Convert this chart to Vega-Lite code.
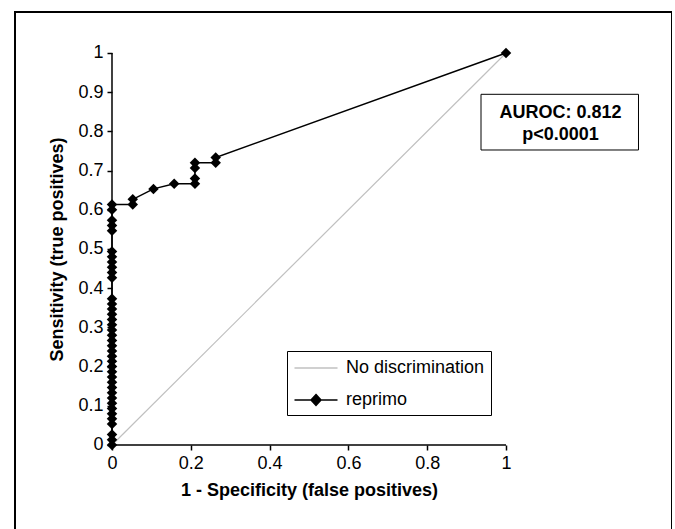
{
  "$schema": "https://vega.github.io/schema/vega-lite/v6.json",
  "autosize": {"type": "none"},
  "width": 657,
  "height": 518,
  "padding": {"left": 15, "top": 12, "right": 0, "bottom": 0},
  "background": "white",
  "config": {
    "view": {"stroke": "black", "strokeWidth": 2},
    "font": "Liberation Sans"
  },
  "datasets": {
    "diag": [{"fpr": 0, "tpr": 0}, {"fpr": 1, "tpr": 1}],
    "series": [{"series": "No discrimination"}, {"series": "reprimo"}],
    "roc": [
      {"series": "reprimo", "fpr": 0, "tpr": 0},
      {"series": "reprimo", "fpr": 0, "tpr": 0.01333},
      {"series": "reprimo", "fpr": 0, "tpr": 0.02667},
      {"series": "reprimo", "fpr": 0, "tpr": 0.05333},
      {"series": "reprimo", "fpr": 0, "tpr": 0.06667},
      {"series": "reprimo", "fpr": 0, "tpr": 0.08},
      {"series": "reprimo", "fpr": 0, "tpr": 0.09333},
      {"series": "reprimo", "fpr": 0, "tpr": 0.10667},
      {"series": "reprimo", "fpr": 0, "tpr": 0.12},
      {"series": "reprimo", "fpr": 0, "tpr": 0.13333},
      {"series": "reprimo", "fpr": 0, "tpr": 0.14667},
      {"series": "reprimo", "fpr": 0, "tpr": 0.16},
      {"series": "reprimo", "fpr": 0, "tpr": 0.17333},
      {"series": "reprimo", "fpr": 0, "tpr": 0.18667},
      {"series": "reprimo", "fpr": 0, "tpr": 0.2},
      {"series": "reprimo", "fpr": 0, "tpr": 0.21333},
      {"series": "reprimo", "fpr": 0, "tpr": 0.22667},
      {"series": "reprimo", "fpr": 0, "tpr": 0.24},
      {"series": "reprimo", "fpr": 0, "tpr": 0.25333},
      {"series": "reprimo", "fpr": 0, "tpr": 0.26667},
      {"series": "reprimo", "fpr": 0, "tpr": 0.28},
      {"series": "reprimo", "fpr": 0, "tpr": 0.29333},
      {"series": "reprimo", "fpr": 0, "tpr": 0.30667},
      {"series": "reprimo", "fpr": 0, "tpr": 0.32},
      {"series": "reprimo", "fpr": 0, "tpr": 0.33333},
      {"series": "reprimo", "fpr": 0, "tpr": 0.34667},
      {"series": "reprimo", "fpr": 0, "tpr": 0.36},
      {"series": "reprimo", "fpr": 0, "tpr": 0.37333},
      {"series": "reprimo", "fpr": 0, "tpr": 0.42667},
      {"series": "reprimo", "fpr": 0, "tpr": 0.44},
      {"series": "reprimo", "fpr": 0, "tpr": 0.45333},
      {"series": "reprimo", "fpr": 0, "tpr": 0.46667},
      {"series": "reprimo", "fpr": 0, "tpr": 0.48},
      {"series": "reprimo", "fpr": 0, "tpr": 0.49333},
      {"series": "reprimo", "fpr": 0, "tpr": 0.54667},
      {"series": "reprimo", "fpr": 0, "tpr": 0.56},
      {"series": "reprimo", "fpr": 0, "tpr": 0.57333},
      {"series": "reprimo", "fpr": 0, "tpr": 0.6},
      {"series": "reprimo", "fpr": 0, "tpr": 0.61333},
      {"series": "reprimo", "fpr": 0.05263, "tpr": 0.61333},
      {"series": "reprimo", "fpr": 0.05263, "tpr": 0.62667},
      {"series": "reprimo", "fpr": 0.10526, "tpr": 0.65333},
      {"series": "reprimo", "fpr": 0.15789, "tpr": 0.66667},
      {"series": "reprimo", "fpr": 0.21053, "tpr": 0.66667},
      {"series": "reprimo", "fpr": 0.21053, "tpr": 0.68},
      {"series": "reprimo", "fpr": 0.21053, "tpr": 0.70667},
      {"series": "reprimo", "fpr": 0.21053, "tpr": 0.72},
      {"series": "reprimo", "fpr": 0.26316, "tpr": 0.72},
      {"series": "reprimo", "fpr": 0.26316, "tpr": 0.73333},
      {"series": "reprimo", "fpr": 1, "tpr": 1}
    ],
    "note": [{"label": ["AUROC: 0.812", "p<0.0001"]}]
  },
  "layer": [
    {
      "data": {"name": "diag"},
      "mark": {"type": "line", "color": "#c0c0c0", "strokeWidth": 1.2},
      "encoding": {
        "x": {
          "field": "fpr", "type": "quantitative",
          "scale": {"domain": [-0.24619, 1.42132], "nice": false, "zero": false},
          "axis": {
            "values": [0, 0.2, 0.4, 0.6, 0.8, 1], "format": "~g",
            "offset": -85, "domain": false, "grid": false,
            "tickSize": 5, "tickColor": "black", "tickWidth": 1.5,
            "labelFont": "Liberation Sans", "labelFontSize": 18, "labelColor": "black",
            "labelPadding": 4, "labelFlush": false, "labelOverlap": false,
            "title": "1 - Specificity (false positives)",
            "titleFont": "Liberation Sans", "titleFontSize": 18, "titleFontWeight": "bold",
            "titleColor": "black", "titleX": 294, "titleY": 45, "titleBaseline": "middle"
          }
        },
        "y": {
          "field": "tpr", "type": "quantitative",
          "scale": {"domain": [-0.21684, 1.10459], "nice": false, "zero": false},
          "axis": {
            "values": [0, 0.1, 0.2, 0.3, 0.4, 0.5, 0.6, 0.7, 0.8, 0.9, 1], "format": "~g",
            "offset": -97, "domain": false, "grid": false,
            "tickSize": 5, "tickColor": "black", "tickWidth": 1.5,
            "labelFont": "Liberation Sans", "labelFontSize": 18, "labelColor": "black",
            "labelPadding": 4, "labelFlush": false, "labelOverlap": false,
            "title": "Sensitivity (true positives)",
            "titleFont": "Liberation Sans", "titleFontSize": 18, "titleFontWeight": "bold",
            "titleColor": "black", "titleX": -55, "titleY": 237, "titleBaseline": "middle"
          }
        }
      }
    },
    {
      "data": {"values": [{}]},
      "mark": {"type": "rule", "color": "black", "strokeWidth": 1.5},
      "encoding": {
        "x": {"datum": 0},
        "x2": {"datum": 1},
        "y": {"datum": 0}
      }
    },
    {
      "data": {"values": [{}]},
      "mark": {"type": "rule", "color": "black", "strokeWidth": 1.5},
      "encoding": {
        "x": {"datum": 0},
        "y": {"datum": 0},
        "y2": {"datum": 1}
      }
    },
    {
      "data": {"values": [{}]},
      "mark": {"type": "rect", "fill": "white", "stroke": "black", "strokeWidth": 1},
      "encoding": {
        "x": {"datum": 0.93655},
        "x2": {"datum": 1.33629},
        "y": {"datum": 0.89464},
        "y2": {"datum": 0.75255}
      }
    },
    {
      "data": {"name": "note"},
      "mark": {"type": "text", "font": "Liberation Sans", "fontSize": 18, "fontWeight": "bold", "color": "black", "align": "center", "baseline": "middle", "lineHeight": 22},
      "encoding": {
        "x": {"datum": 1.1383},
        "y": {"datum": 0.8469},
        "text": {"field": "label"}
      }
    },
    {
      "data": {"name": "roc"},
      "mark": {"type": "line", "color": "black", "strokeWidth": 1.5},
      "encoding": {
        "x": {"field": "fpr", "type": "quantitative"},
        "y": {"field": "tpr", "type": "quantitative"},
        "order": [{"field": "fpr", "type": "quantitative"}, {"field": "tpr", "type": "quantitative"}]
      }
    },
    {
      "data": {"name": "roc"},
      "mark": {"type": "point", "shape": "diamond", "filled": true, "size": 110, "opacity": 1, "color": "black"},
      "encoding": {
        "x": {"field": "fpr", "type": "quantitative"},
        "y": {"field": "tpr", "type": "quantitative"}
      }
    },
    {
      "data": {"name": "series"},
      "mark": {"type": "point", "opacity": 1, "clip": true, "strokeWidth": 1.5},
      "encoding": {
        "x": {"datum": -5},
        "y": {"datum": -5},
        "fill": {
          "field": "series", "type": "nominal",
          "scale": {"domain": ["No discrimination", "reprimo"], "range": ["white", "black"]},
          "legend": {
            "title": null, "orient": "none", "legendX": 272, "legendY": 339,
            "padding": 6, "strokeColor": "black", "fillColor": "white",
            "symbolSize": 400, "symbolOffset": 12, "labelOffset": 19, "rowPadding": 12,
            "labelFont": "Liberation Sans", "labelFontSize": 18, "labelColor": "black",
            "symbolStrokeWidth": 1.5
          }
        },
        "stroke": {
          "field": "series", "type": "nominal",
          "scale": {"domain": ["No discrimination", "reprimo"], "range": ["#c0c0c0", "black"]},
          "legend": {
            "title": null, "orient": "none", "legendX": 272, "legendY": 339,
            "padding": 6, "strokeColor": "black", "fillColor": "white",
            "symbolSize": 400, "symbolOffset": 12, "labelOffset": 19, "rowPadding": 12,
            "labelFont": "Liberation Sans", "labelFontSize": 18, "labelColor": "black",
            "symbolStrokeWidth": 1.5
          }
        },
        "shape": {
          "field": "series", "type": "nominal",
          "scale": {"domain": ["No discrimination", "reprimo"], "range": ["M-2.15,0L2.15,0", "M-2.15,0L2.15,0M0,-0.55L0.5,0L0,0.55L-0.5,0Z"]},
          "legend": {
            "title": null, "orient": "none", "legendX": 272, "legendY": 339,
            "padding": 6, "strokeColor": "black", "fillColor": "white",
            "symbolSize": 400, "symbolOffset": 12, "labelOffset": 19, "rowPadding": 12,
            "labelFont": "Liberation Sans", "labelFontSize": 18, "labelColor": "black",
            "symbolStrokeWidth": 1.5
          }
        }
      }
    }
  ]
}
